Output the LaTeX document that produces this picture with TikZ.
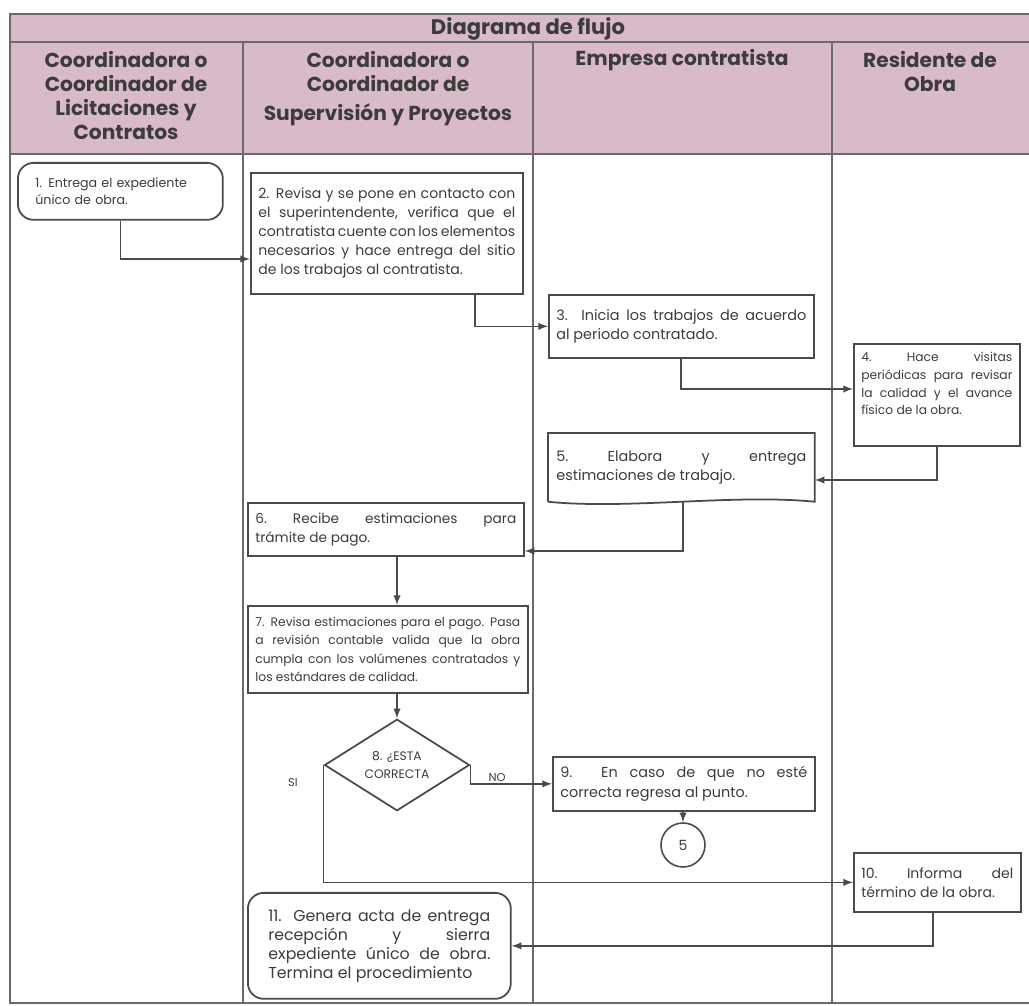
\documentclass[tikz,border=0pt]{standalone}
\usepackage{fontspec}
\setmainfont{Poppins}
\usetikzlibrary{arrows}
\usetikzlibrary{positioning}
\usetikzlibrary{shapes.geometric}
\definecolor{HeadPink}{HTML}{D9BAC8}
\definecolor{LineGray}{HTML}{4A4A4A}
\definecolor{FrameGray}{HTML}{6A6A6A}
\definecolor{TextGray}{HTML}{3C3C3C}
\tolerance=10000
\hbadness=10000
\hyphenpenalty=10000
\exhyphenpenalty=10000
\parindent=0pt
\tikzset{
  paso/.style={draw=LineGray, line width=1pt, anchor=north west, align=justify,
    inner xsep=0.15cm, inner ysep=2pt, text=TextGray,
    font=\fontsize{8.2}{11}\selectfont},
  pasoredondo/.style={paso, rounded corners=9pt},
  decision/.style={diamond, draw=LineGray, line width=1pt, inner sep=0pt,
    minimum width=2.9cm, minimum height=1.6cm, align=center, text=TextGray,
    font=\fontsize{7}{10}\selectfont},
  conector/.style={circle, draw=LineGray, line width=0.9pt, minimum size=0.88cm,
    inner sep=0pt, text=TextGray, font=\fontsize{8}{9}\selectfont},
  flecha/.style={draw=LineGray, line width=0.9pt, -latex},
  marco/.style={draw=FrameGray, line width=0.8pt},
  encabezado/.style={anchor=north, align=center, text=TextGray,
    font=\bfseries\fontsize{11.5}{13.6}\selectfont},
  etiqueta/.style={text=TextGray, font=\fontsize{6.5}{7}\selectfont, inner sep=1pt},
}

\begin{document}
\begin{tikzpicture}[x=0.02cm, y=-0.02cm]
  \useasboundingbox (0,0) rectangle (1029,1006);

  % table frame and lanes
  \fill[HeadPink] (10,14) rectangle (1029,154);
  \draw[marco] (1029,14) -- (10,14) -- (10,1003) -- (1029,1003);
  \draw[marco] (10,42) -- (1029,42);
  \draw[marco] (10,154) -- (1029,154);
  \foreach \x in {243,533,832}
  {
    \draw[marco] (\x,42) -- (\x,1003);
  }

  \node[encabezado, anchor=center, font=\bfseries\fontsize{12}{14}\selectfont] (titulo) at (528,29) {Diagrama de flujo};
  \node[encabezado] (carril1) at (126,45) {Coordinadora o\\Coordinador de\\Licitaciones y\\Contratos};
  \node[encabezado] (carril2) at (388,45) {Coordinadora o\\Coordinador de\\[3pt]Supervisión y Proyectos};
  \node[encabezado] (carril3) at (682,43) {Empresa contratista};
  \node[encabezado] (carril4) at (930,45) {Residente de\\Obra};

  % steps
  \node[pasoredondo, align=left, inner xsep=0.35cm, text width=3.4cm, minimum height=1.14cm,
    font=\fontsize{7.2}{10}\selectfont] (p1) at (17,162)
    {1. Entrega el expediente único de obra.};
  \node[paso, text width=5.14cm, minimum height=2.42cm, font=\fontsize{8}{10.8}\selectfont] (p2) at (250,172)
    {2. Revisa y se pone en contacto con\linebreak el superintendente, verifica que el\linebreak
     contratista cuente con los elementos\linebreak necesarios y hace entrega del sitio\linebreak
     de los trabajos al contratista.};
  \node[paso, text width=5.0cm, minimum height=1.26cm] (p3) at (548,294)
    {3. Inicia los trabajos de acuerdo\linebreak al periodo contratado.};
  \node[paso, text width=3.02cm, minimum height=2.04cm, font=\fontsize{7}{10.2}\selectfont] (p4) at (853,343)
    {4.\hfill Hace\hfill visitas\linebreak periódicas para revisar\linebreak la calidad y el avance\linebreak físico de la obra.\par\vspace{13pt}};
  \node[paso, draw=none, text width=5.0cm, minimum height=1.34cm] (p5) at (548,433)
    {5.\hfill Elabora\hfill y\hfill entrega\linebreak estimaciones de trabajo.};
  \draw[draw=LineGray, line width=1pt] (p5.south west) -- (p5.north west) -- (p5.north east)
    -- (p5.south east) .. controls +(-80,-8) and +(80,8) .. (p5.south west);
  \node[paso, text width=5.22cm, minimum height=1.06cm, font=\fontsize{7.8}{11}\selectfont] (p6) at (247,502)
    {6.\hfill Recibe\hfill estimaciones\hfill para\linebreak trámite de pago.};
  \node[paso, text width=5.3cm, minimum height=1.74cm, font=\fontsize{7}{10.3}\selectfont] (p7) at (247,605)
    {7. Revisa estimaciones para el pago. Pasa\linebreak a revisión contable valida que la obra\linebreak
     cumpla con los volúmenes contratados y\linebreak los estándares de calidad.};
  \node[decision] (p8) at (397,765) {8. ¿ESTA\\CORRECTA};
  \node[paso, text width=4.94cm, minimum height=1.08cm, font=\fontsize{8.2}{11}\selectfont] (p9) at (552,756)
    {9. En caso de que no esté\linebreak correcta regresa al punto.};
  \node[conector] (c5) at (683,845) {5};
  \node[paso, text width=3.04cm, minimum height=1.18cm, font=\fontsize{8}{10.8}\selectfont] (p10) at (853,852)
    {10.\hfill Informa\hfill del\linebreak término de la obra.};
  \node[pasoredondo, inner xsep=0.41cm, text width=4.44cm, minimum height=2.12cm,
    font=\fontsize{9}{10.8}\selectfont] (p11) at (247,892)
    {11. Genera acta de entrega\linebreak recepción\hfill y\hfill sierra\linebreak
     expediente único de obra.\linebreak Termina el procedimiento};

  \node[etiqueta] (si) at (293,783) {SI};
  \node[etiqueta] (no) at (497,778) {NO};

  % connectors
  \draw[flecha] (p1.south) |- (p2.west |- 0,259);
  \draw[flecha] (p2.south -| 475,0) |- (p3.west);
  \draw[flecha] (p3.south -| 681,0) |- (p4.west |- 0,389);
  \draw[flecha] (p4.south) |- (p5.east |- 0,480);
  \draw[flecha] (p5.south -| 683,0) |- (p6.east |- 0,551);
  \draw[flecha] (p6.south -| p8.north) -- (p7.north -| p8.north);
  \draw[flecha] (p7.south -| p8.north) -- (p8.north);
  \draw[flecha] (p8.east) |- (p9.west);
  \draw[flecha] (p8.west) |- (p10.west);
  \draw[flecha] (p9.south -| c5.north) -- (c5.north);
  \draw[flecha] (p10.south -| 933,0) |- (p11.east);

\end{tikzpicture}
\end{document}
